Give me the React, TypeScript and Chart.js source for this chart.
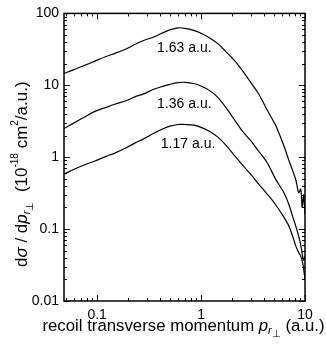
import React, { useEffect, useRef } from "react";
import { Chart, registerables } from "chart.js";

Chart.register(...registerables);

const xValues = [0.048, 0.06, 0.075, 0.094, 0.12, 0.15, 0.19, 0.23, 0.28, 0.35, 0.42, 0.5, 0.6, 0.7, 0.85, 1.0, 1.2, 1.45, 1.75, 2.1, 2.5, 3.0, 3.6, 4.3, 5.2, 6.2, 7.0, 7.6, 8.2, 8.7, 9.1, 9.4, 9.7, 10.0];
const series163 = [14.6, 16.5, 18.8, 21.5, 25, 28, 32, 37, 42, 47, 53, 59, 63, 62, 58, 53, 46, 38, 29, 22, 16, 11, 7.5, 4.6, 2.8, 1.5, 0.9, 0.65, 0.47, 0.32, 0.36, 0.2, 0.3, 0.16];
const series136 = [2.5, 3.0, 3.6, 4.3, 4.9, 5.5, 6.1, 6.9, 7.6, 8.8, 9.6, 10.3, 10.9, 11, 10.6, 9.8, 8.5, 6.8, 4.8, 3.3, 2.3, 1.7, 1.2, 0.85, 0.5, 0.33, 0.22, 0.15, 0.107, 0.08, 0.06, 0.045, 0.037, 0.042];
const series117 = [0.58, 0.68, 0.78, 0.88, 1.02, 1.15, 1.35, 1.57, 1.8, 2.15, 2.45, 2.7, 2.85, 2.85, 2.8, 2.6, 2.3, 1.9, 1.45, 1.05, 0.78, 0.58, 0.42, 0.31, 0.22, 0.15, 0.11, 0.08, 0.057, 0.047, 0.042, 0.036, 0.028, 0.02];

const seriesNames = ["1.63 a.u.", "1.36 a.u.", "1.17 a.u."];
const labelX = [0.69, 0.69, 0.75];
const labelY = [33, 5.5, 1.5];

const xMajorTicks = [0.1, 1, 10];
const yMajorTicks = [0.01, 0.1, 1, 10, 100];
const xMin = 0.048;
const xMax = 10;
const yMin = 0.01;
const yMax = 100;

const FONT = "'Liberation Sans', Arial, Helvetica, sans-serif";

type Part = { t: string; italic?: boolean; size?: number; dy?: number };

function drawRich(ctx: CanvasRenderingContext2D, parts: Part[], cx: number, cy: number, base: number) {
  const fontOf = (p: Part) => `${p.italic ? "italic " : ""}${p.size ?? base}px ${FONT}`;
  let total = 0;
  for (const p of parts) {
    ctx.font = fontOf(p);
    total += ctx.measureText(p.t).width;
  }
  let x = cx - total / 2;
  ctx.textAlign = "left";
  ctx.textBaseline = "middle";
  for (const p of parts) {
    ctx.font = fontOf(p);
    ctx.fillText(p.t, x, cy + (p.dy ?? 0));
    x += ctx.measureText(p.t).width;
  }
}

const decorPlugin = {
  id: "decor",
  afterDraw(chart: any) {
    const { ctx, chartArea: a, scales } = chart;
    const xs = scales.x;
    const ys = scales.y;
    ctx.save();
    ctx.strokeStyle = "#000";
    ctx.fillStyle = "#000";
    ctx.lineWidth = 1.5;
    ctx.strokeRect(a.left, a.top, a.right - a.left, a.bottom - a.top);
    ctx.lineWidth = 1;
    const ticksFor = (min: number, max: number) => {
      const out: { v: number; major: boolean }[] = [];
      for (let d = Math.floor(Math.log10(min)); d <= Math.ceil(Math.log10(max)); d++) {
        for (let k = 1; k <= 9; k++) {
          const v = k * Math.pow(10, d);
          if (v >= min * 0.9999 && v <= max * 1.0001) out.push({ v, major: k === 1 });
        }
      }
      return out;
    };
    ctx.beginPath();
    for (const t of ticksFor(xMin, xMax)) {
      const px = Math.round(xs.getPixelForValue(t.v)) + 0.5;
      const len = t.major ? 6 : 3;
      ctx.moveTo(px, a.bottom);
      ctx.lineTo(px, a.bottom - len);
      ctx.moveTo(px, a.top);
      ctx.lineTo(px, a.top + len);
    }
    for (const t of ticksFor(yMin, yMax)) {
      const py = Math.round(ys.getPixelForValue(t.v)) + 0.5;
      const len = t.major ? 6 : 3;
      ctx.moveTo(a.left, py);
      ctx.lineTo(a.left + len, py);
      ctx.moveTo(a.right, py);
      ctx.lineTo(a.right - len, py);
    }
    ctx.stroke();

    ctx.font = `14px ${FONT}`;
    ctx.textAlign = "center";
    ctx.textBaseline = "middle";
    seriesNames.forEach((n, i) => {
      ctx.fillText(n, xs.getPixelForValue(labelX[i]), ys.getPixelForValue(labelY[i]));
    });

    drawRich(
      ctx,
      [
        { t: "recoil transverse momentum " },
        { t: "p", italic: true },
        { t: "r", italic: true, size: 11, dy: 5 },
        { t: "\u22A5", size: 10, dy: 8 },
        { t: " (a.u.)" },
      ],
      (a.left + a.right) / 2 - 1,
      chart.height - 27,
      16.8
    );

    ctx.translate(22, (a.top + a.bottom) / 2 + 17);
    ctx.rotate(-Math.PI / 2);
    drawRich(
      ctx,
      [
        { t: "d" },
        { t: "\u03C3", italic: true },
        { t: " / d" },
        { t: "p", italic: true },
        { t: "r", italic: true, size: 11, dy: 5 },
        { t: "\u22A5", size: 10, dy: 8 },
        { t: "  (10" },
        { t: "-18", size: 10, dy: -7 },
        { t: " cm" },
        { t: "2", size: 10, dy: -7 },
        { t: "/a.u.)" },
      ],
      0,
      0,
      17
    );
    ctx.restore();
  },
};

export default function App() {
  const ref = useRef<HTMLCanvasElement>(null);
  useEffect(() => {
    document.body.style.margin = "0";
    const mk = (ys: number[]) => xValues.map((x, i) => ({ x, y: ys[i] }));
    const chart = new Chart(ref.current!, {
      type: "line",
      data: {
        datasets: [series163, series136, series117].map((s, i) => ({
          label: seriesNames[i],
          data: mk(s),
          borderColor: "#000",
          borderWidth: 1.2,
          pointRadius: 0,
          tension: 0.3,
          fill: false,
        })),
      },
      options: {
        animation: false,
        responsive: false,
        devicePixelRatio: 1,
        layout: { padding: { top: 10, right: 21, left: 0, bottom: 0 } },
        plugins: { legend: { display: false }, tooltip: { enabled: false } },
        scales: {
          x: {
            type: "logarithmic",
            min: xMin,
            max: xMax,
            grid: { display: false, drawTicks: false },
            border: { display: false },
            afterBuildTicks: (s: any) => {
              s.ticks = xMajorTicks.map((v) => ({ value: v }));
            },
            afterFit: (s: any) => {
              s.height = 52;
            },
            ticks: {
              color: "#000",
              font: { family: FONT, size: 14 },
              padding: 6,
              maxRotation: 0,
              autoSkip: false,
              callback: (v: any) => String(v),
            },
          },
          y: {
            type: "logarithmic",
            min: yMin,
            max: yMax,
            grid: { display: false, drawTicks: false },
            border: { display: false },
            afterBuildTicks: (s: any) => {
              s.ticks = yMajorTicks.map((v) => ({ value: v }));
            },
            afterFit: (s: any) => {
              s.width = 64;
            },
            ticks: {
              color: "#000",
              font: { family: FONT, size: 14 },
              padding: 5,
              autoSkip: false,
              callback: (v: any) => String(v),
            },
          },
        },
      },
      plugins: [decorPlugin],
    });
    return () => chart.destroy();
  }, []);
  return (
    <div style={{ position: "fixed", left: 0, top: 0, width: 326, height: 353, background: "#fff" }}>
      <canvas ref={ref} width={326} height={353} style={{ width: 326, height: 353 }} />
    </div>
  );
}
